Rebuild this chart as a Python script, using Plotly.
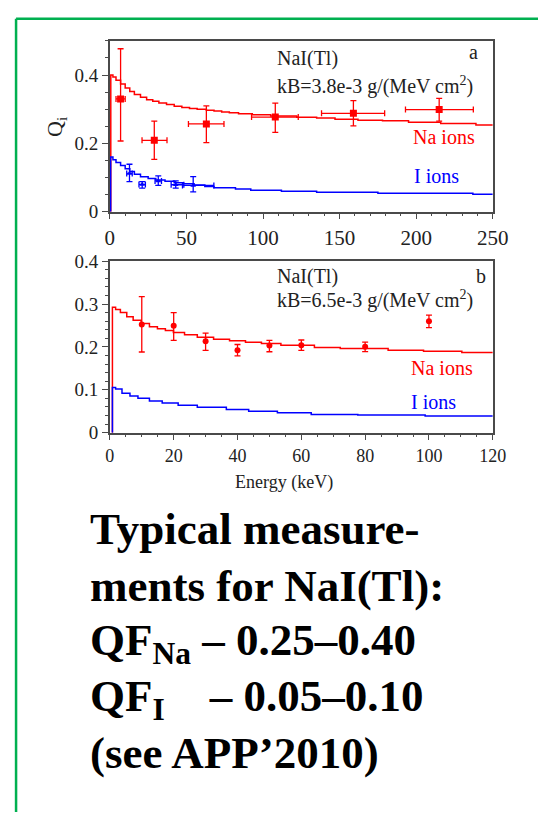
import plotly.graph_objects as go

W, H = 554, 823

# ---------------- panel a: kB = 3.8e-3 g/(MeV cm^2), 0-250 keV ----------------
# Na recoil measurements (energy, quenching factor, asymmetric errors)
na_a_E = [7, 29, 63, 108, 159, 215]
na_a_Q = [0.330, 0.209, 0.257, 0.277, 0.288, 0.299]
na_a_dE_hi = [3.0, 8.3, 11.5, 15.0, 20.4, 22.3]
na_a_dE_lo = [3.0, 8.0, 11.7, 15.5, 20.8, 22.0]
na_a_dQ_hi = [0.147, 0.056, 0.053, 0.041, 0.037, 0.033]
na_a_dQ_lo = [0.123, 0.056, 0.055, 0.045, 0.037, 0.034]

# I recoil measurements
i_a_E = [12.8, 21.1, 31.6, 43.0, 54.4]
i_a_Q = [0.112, 0.080, 0.090, 0.079, 0.077]
i_a_dE_hi = [1.8, 2.1, 2.1, 5.3, 13.5]
i_a_dE_lo = [1.8, 2.1, 2.1, 3.0, 7.0]
i_a_dQ_hi = [0.027, 0.008, 0.015, 0.011, 0.026]
i_a_dQ_lo = [0.024, 0.011, 0.013, 0.010, 0.019]

# Birks-model curves (step histograms: bin start, value)
na_a_curve_E = [0.6, 0.6, 2, 4, 7, 10, 13, 16, 20, 24, 28, 32, 37, 42, 47, 52, 57,
                63, 68, 73, 78, 84, 93, 105, 122, 135, 147, 162, 178, 195, 216, 239, 250]
na_a_curve_Q = [0, 0.400, 0.394, 0.385, 0.374, 0.362, 0.352, 0.343, 0.335, 0.328,
                0.323, 0.318, 0.314, 0.309, 0.305, 0.302, 0.300, 0.297, 0.295, 0.292,
                0.290, 0.287, 0.284, 0.280, 0.2765, 0.274, 0.271, 0.268, 0.266, 0.262,
                0.258, 0.254, 0.254]
i_a_curve_E = [0.5, 0.5, 2, 4, 7, 10, 13, 16, 20, 25, 30, 36, 42, 48, 55, 62, 68,
               82, 92, 112, 135, 175, 237, 250]
i_a_curve_Q = [0, 0.160, 0.152, 0.144, 0.135, 0.126, 0.118, 0.110, 0.102, 0.097,
               0.093, 0.089, 0.085, 0.082, 0.078, 0.074, 0.070, 0.0665, 0.063, 0.060,
               0.057, 0.054, 0.051, 0.051]

# ---------------- panel b: kB = 6.5e-3 g/(MeV cm^2), 0-120 keV ----------------
na_b_E = [10, 20, 30, 40, 50, 60, 80, 100]
na_b_Q = [0.252, 0.249, 0.213, 0.192, 0.203, 0.204, 0.200, 0.260]
na_b_dQ_hi = [0.065, 0.031, 0.019, 0.0135, 0.012, 0.012, 0.011, 0.014]
na_b_dQ_lo = [0.064, 0.034, 0.021, 0.013, 0.0144, 0.012, 0.011, 0.015]

na_b_curve_E = [0.8, 0.8, 1.8, 3.3, 5.3, 7.3, 9.8, 12.4, 14.9, 17.4, 19.9, 23.4, 27.4,
                32.5, 37.5, 42.5, 47.5, 53.6, 64.1, 72.2, 87.2, 98.3, 110.3, 120]
na_b_curve_Q = [0, 0.2925, 0.287, 0.280, 0.270, 0.262, 0.2545, 0.247, 0.242, 0.238,
                0.2335, 0.228, 0.2227, 0.218, 0.2145, 0.211, 0.208, 0.204, 0.1985,
                0.196, 0.192, 0.190, 0.187, 0.187]
i_b_curve_E = [0.8, 0.8, 1.8, 3.8, 6.3, 8.8, 12.4, 16.4, 21.4, 27.4, 36.5, 43.5, 52.5,
               63.1, 77.7, 98.8, 120]
i_b_curve_Q = [0, 0.105, 0.1016, 0.092, 0.0857, 0.080, 0.074, 0.069, 0.0637, 0.059,
               0.054, 0.050, 0.0464, 0.0425, 0.041, 0.0386, 0.0386]

RED = "#ff0000"
BLUE = "#0000ff"
SERIF = "Liberation Serif, Times New Roman, serif"
AXC = "#4a4a4a"

fig = go.Figure()

def curve(x, y, color, xa, ya):
    fig.add_trace(go.Scatter(x=x, y=y, mode="lines", line=dict(color=color, width=1.5, shape="hv"),
                             xaxis=xa, yaxis=ya, hoverinfo="skip"))

def points(x, y, color, symbol, size, xa, ya, ey_hi, ey_lo, ex_hi=None, ex_lo=None):
    kw = {}
    if ex_hi is not None:
        kw["error_x"] = dict(type="data", array=ex_hi, arrayminus=ex_lo, symmetric=False,
                             color=color, thickness=1.3, width=3)
    fig.add_trace(go.Scatter(
        x=x, y=y, mode="markers",
        marker=dict(color=color, symbol=symbol, size=size),
        error_y=dict(type="data", array=ey_hi, arrayminus=ey_lo, symmetric=False,
                     color=color, thickness=1.3, width=3),
        xaxis=xa, yaxis=ya, **kw))

curve(na_a_curve_E, na_a_curve_Q, RED, "x", "y")
curve(i_a_curve_E, i_a_curve_Q, BLUE, "x", "y")
points(na_a_E, na_a_Q, RED, "square", 7, "x", "y", na_a_dQ_hi, na_a_dQ_lo, na_a_dE_hi, na_a_dE_lo)
points(i_a_E, i_a_Q, BLUE, "triangle-up", 5, "x", "y", i_a_dQ_hi, i_a_dQ_lo, i_a_dE_hi, i_a_dE_lo)

curve(na_b_curve_E, na_b_curve_Q, RED, "x2", "y2")
curve(i_b_curve_E, i_b_curve_Q, BLUE, "x2", "y2")
points(na_b_E, na_b_Q, RED, "circle", 6, "x2", "y2", na_b_dQ_hi, na_b_dQ_lo)

def px(x):
    return x / W

def py(y):
    return 1 - y / H

def axis_style(size):
    return dict(showline=True, mirror=True, linecolor=AXC, linewidth=1.5, showgrid=False,
                zeroline=False, ticks="outside", ticklen=6, tickwidth=1.3, tickcolor=AXC,
                tickfont=dict(family=SERIF, size=size, color="#222"))

fig.update_layout(
    width=W, height=H, margin=dict(l=0, r=0, t=0, b=0, pad=0),
    paper_bgcolor="white", plot_bgcolor="white", showlegend=False,
    xaxis=dict(domain=[px(109), px(507)], range=[0, 250], dtick=50, anchor="y",
               minor=dict(dtick=10, ticks="outside", ticklen=3, tickcolor=AXC),
               **axis_style(21)),
    yaxis=dict(domain=[py(207), py(31.7)], range=[0, 0.5], tickvals=[0, 0.2, 0.4],
               ticktext=["0", "0.2", "0.4"], anchor="x",
               minor=dict(dtick=0.05, ticks="outside", ticklen=3, tickcolor=AXC),
               **axis_style(19)),
    xaxis2=dict(domain=[px(109), px(507)], range=[0, 120], dtick=20, anchor="y2",
                minor=dict(dtick=5, ticks="outside", ticklen=3, tickcolor=AXC),
                **axis_style(18)),
    yaxis2=dict(domain=[py(433.7), py(257.7)], range=[0, 0.4], dtick=0.1, anchor="x2",
                minor=dict(dtick=0.02, ticks="outside", ticklen=3, tickcolor=AXC),
                **axis_style(19)),
)

def note(text, x, y, size=20, color="#222", xanchor="left", yanchor="middle", angle=0, font=SERIF):
    fig.add_annotation(text=text, x=px(x), y=py(y), xref="paper", yref="paper",
                       xanchor=xanchor, yanchor=yanchor, showarrow=False, textangle=angle,
                       font=dict(family=font, size=size, color=color))

# panel labels
note("NaI(Tl)", 281, 50)
note("kB=3.8e-3 g/(MeV cm<sup>2</sup>)", 281, 77)
note("a", 494, 43, xanchor="right")
note("Na ions", 491, 130, color=RED, xanchor="right")
note("I ions", 474, 170, color=BLUE, xanchor="right")
note("Q<sub>i</sub>", 53, 120, size=22, angle=-90, xanchor="center")

note("NaI(Tl)", 281, 273)
note("kB=6.5e-3 g/(MeV cm<sup>2</sup>)", 281, 297)
note("b", 502, 273, xanchor="right")
note("Na ions", 489, 367, color=RED, xanchor="right")
note("I ions", 471, 402, color=BLUE, xanchor="right")
note("Energy (keV)", 290, 485, size=18, xanchor="center")

# summary text
big = [
    ("Typical measure-", 533),
    ("ments for NaI(Tl):", 591),
    ("QF<sub>Na</sub> – 0.25–0.40", 650),
    ("QF<sub>I</sub>\u00a0\u00a0\u00a0\u00a0– 0.05–0.10", 707),
    ("(see APP\u20192010)", 762),
]
for txt, yy in big:
    note("<b>" + txt + "</b>", 86, yy, size=45, color="black")

# green frame
GREEN = "#00b050"
fig.add_shape(type="line", xref="paper", yref="paper", x0=px(11.5), x1=1.0, y0=py(9), y1=py(9),
              line=dict(color=GREEN, width=2.5))
fig.add_shape(type="line", xref="paper", yref="paper", x0=px(11.5), x1=px(11.5), y0=py(9), y1=0,
              line=dict(color=GREEN, width=2.5))

fig.write_html("out.html")
